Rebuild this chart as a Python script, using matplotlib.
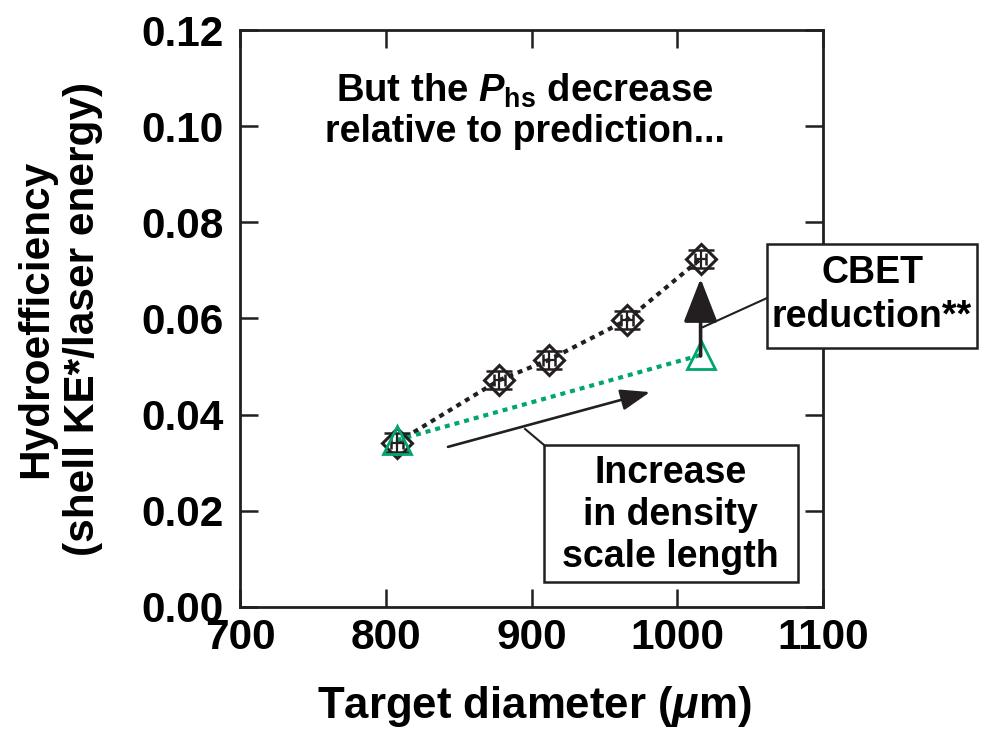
import matplotlib
matplotlib.use("Agg")
import matplotlib.pyplot as plt
from matplotlib.patches import Rectangle, FancyArrowPatch
from matplotlib.lines import Line2D

plt.rcParams["font.family"] = ["Liberation Sans", "DejaVu Sans"]
plt.rcParams["font.weight"] = "bold"
plt.rcParams["mathtext.fontset"] = "custom"
plt.rcParams["mathtext.rm"] = "Liberation Sans:bold"
plt.rcParams["mathtext.it"] = "Liberation Sans:italic:bold"
plt.rcParams["mathtext.bf"] = "Liberation Sans:bold"

# Measured hydroefficiency vs. target diameter
diameter_meas = [807.5, 878, 912, 965.5, 1016]
hydro_meas = [0.0342, 0.0472, 0.0514, 0.0597, 0.0724]
diam_err = [4, 4, 4, 4, 4]
hydro_err = [0.0019, 0.0019, 0.0019, 0.0019, 0.0019]

# Predicted hydroefficiency
diameter_pred = [807.5, 1016]
hydro_pred = [0.0347, 0.0524]

x_ticks = [700, 800, 900, 1000, 1100]
y_ticks = [0.00, 0.02, 0.04, 0.06, 0.08, 0.10, 0.12]

INK = "#231f20"
GREEN = "#00a66e"

fig = plt.figure(figsize=(10.08, 7.32), dpi=100)
ax = fig.add_axes([0.2381, 0.1708, 0.5784, 0.7882])
ax.set_xlim(700, 1100)
ax.set_ylim(0, 0.12)
ax.set_xticks(x_ticks)
ax.set_yticks(y_ticks)
ax.set_xticklabels([f"{v}" for v in x_ticks])
ax.set_yticklabels([f"{v:.2f}" for v in y_ticks])
for s in ax.spines.values():
    s.set_linewidth(2)
    s.set_color(INK)
ax.tick_params(direction="in", length=13, width=1.8, color=INK,
               top=True, right=True, labelsize=30.5, labelcolor="black")
ax.tick_params(axis="y", pad=12)
ax.tick_params(axis="x", pad=8)

# Connecting dotted lines
ax.plot(diameter_meas, hydro_meas, ls=(0, (1.2, 1.2)), lw=3, color=INK, zorder=2)
ax.plot(diameter_pred, hydro_pred, ls=(0, (1.2, 1.2)), lw=3, color=GREEN, zorder=2)

# Measured points with error bars
ax.plot(diameter_meas, hydro_meas, ls="none", marker="D", ms=15, mfc="none",
        mec=INK, mew=2.2, zorder=3)
ax.errorbar(diameter_meas, hydro_meas, yerr=hydro_err, fmt="none", ecolor=INK,
            elinewidth=1.6, capsize=9.5, capthick=1.8, zorder=3)
ax.errorbar(diameter_meas, hydro_meas, xerr=diam_err, fmt="none", ecolor=INK,
            elinewidth=1.6, capsize=4, capthick=1.8, zorder=3)

# Predicted points
ax.plot(diameter_pred, hydro_pred, ls="none", marker="^", ms=20, mfc="none",
        mec=GREEN, mew=2, zorder=4)

# CBET arrow between prediction and measurement at the largest diameter
cbet = FancyArrowPatch((diameter_pred[-1], 0.0522), (diameter_meas[-1], 0.0683),
                       arrowstyle="-|>,head_length=2.7,head_width=1.05",
                       mutation_scale=10, lw=2.6, color=INK, shrinkA=0, shrinkB=0,
                       zorder=5)
ax.add_patch(cbet)

# Density scale-length arrow
dens = FancyArrowPatch((842.7, 0.0333), (981.3, 0.0447),
                       arrowstyle="-|>,head_length=1.8,head_width=0.65",
                       mutation_scale=10, lw=1.9, color=INK, shrinkA=0, shrinkB=0,
                       zorder=5)
ax.add_patch(dens)

# Annotation boxes
box1 = Rectangle((0.5214, 0.0433), 0.4356, 0.2375, transform=ax.transAxes,
                 facecolor="white", edgecolor=INK, lw=1.8, clip_on=False, zorder=6)
ax.add_patch(box1)
ax.text(0.739, 0.160, "Increase\nin density\nscale length", transform=ax.transAxes,
        ha="center", va="center", fontsize=27, linespacing=1.22, zorder=7)
ax.add_line(Line2D([0.4889, 0.5214], [0.3085, 0.2808], transform=ax.transAxes,
                   color=INK, lw=1.5, clip_on=False, zorder=6))

box2 = Rectangle((0.904, 0.449), 0.36, 0.18, transform=ax.transAxes,
                 facecolor="white", edgecolor=INK, lw=1.8, clip_on=False, zorder=6)
ax.add_patch(box2)
ax.text(1.084, 0.541, "CBET\nreduction**", transform=ax.transAxes,
        ha="center", va="center", fontsize=27, linespacing=1.28, zorder=7)
ax.add_line(Line2D([0.794, 0.904], [0.485, 0.5355], transform=ax.transAxes,
                   color=INK, lw=1.5, clip_on=False, zorder=6))

# Headline text
ax.text(0.488, 0.895, r"But the $P_{\mathbf{hs}}$ decrease", transform=ax.transAxes,
        ha="center", va="center", fontsize=27.5)
ax.text(0.488, 0.823, "relative to prediction...", transform=ax.transAxes,
        ha="center", va="center", fontsize=27)

# Axis titles
ax.text(0.505, -0.173, r"Target diameter ($\mu$m)", transform=ax.transAxes,
        ha="center", va="center", fontsize=31.5)
ax.text(-0.309, 0.5, "Hydroefficiency\n(shell KE*/laser energy)", transform=ax.transAxes,
        ha="center", va="center", rotation=90, fontsize=30.5, linespacing=1.22)

fig.savefig("out.png", dpi=100)
